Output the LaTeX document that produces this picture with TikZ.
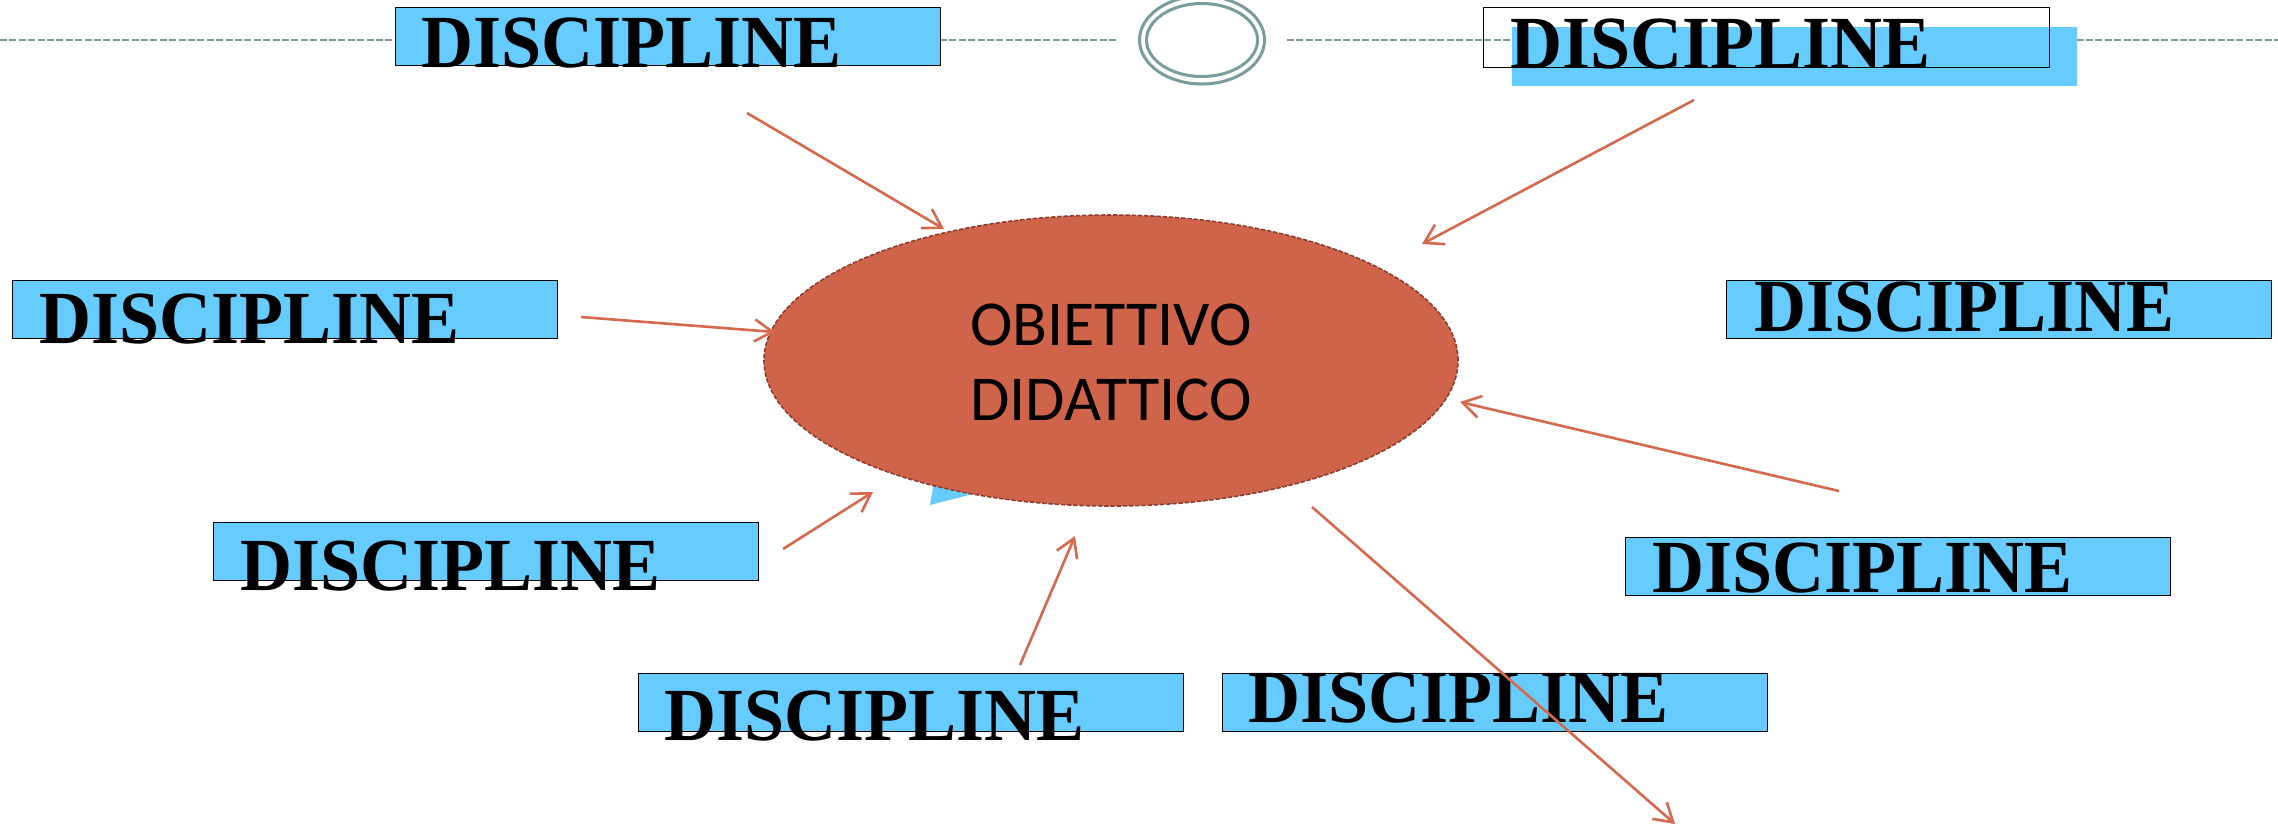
\documentclass[tikz,border=0pt]{standalone}
\usepackage{fontspec}
\usetikzlibrary{shapes.geometric,arrows.meta}
\newfontfamily\discfont[FakeStretch=0.96]{Liberation Serif}
\newfontfamily\carl{Carlito}
\definecolor{boxblue}{HTML}{66CCFF}
\definecolor{coralfill}{HTML}{D0644A}
\definecolor{arrowcol}{HTML}{D4694E}
\definecolor{edgecol}{HTML}{8E3E2E}
\definecolor{ringcol}{HTML}{7A9C9C}
\begin{document}
\begin{tikzpicture}[x=0.5pt,y=-0.5pt,
  discbox/.style={draw=black,line width=0.6pt,fill=boxblue,minimum width=272.5pt,minimum height=29pt,inner sep=0pt,anchor=north west},
  bluerect/.style={fill=boxblue,minimum width=282.5pt,minimum height=29.5pt,inner sep=0pt,anchor=north west},
  outlinebox/.style={draw=black,line width=0.6pt,minimum width=283pt,minimum height=30pt,inner sep=0pt,anchor=north west},
  disctext/.style={font=\discfont\bfseries\fontsize{37.5}{40}\selectfont,inner sep=0pt,anchor=base west},
  goaltext/.style={font=\carl\fontsize{32}{38}\selectfont,inner sep=0pt,anchor=base},
  link/.style={draw=arrowcol,line width=1.3pt,-{Straight Barb[length=9pt,width=11pt]}},
  ring/.style={draw=ringcol,line width=1.5pt},
  rulestyle/.style={draw=ringcol,line width=0.8pt,dash pattern=on 3.5pt off 1.2pt}]
\fill[white] (0,0) rectangle (2278,827);
\useasboundingbox (0,0) rectangle (2278,827);

% top rule and ring
\draw[rulestyle] (0,40) -- (1117,40);
\draw[rulestyle] (1287,40) -- (2278,40);
\draw[ring] (1202,40) ellipse [x radius=31.25pt, y radius=22pt];
\draw[ring] (1202,40) ellipse [x radius=27.75pt, y radius=18.25pt];

% boxes
\node[discbox] (b1) at (395,7) {};
\node[bluerect] (b2fill) at (1512,27) {};
\node[outlinebox] (b2) at (1483,7) {};
\node[discbox] (b3) at (12,280) {};
\node[discbox] (b4) at (1726,280) {};
\node[discbox] (b5) at (213,522) {};
\node[discbox] (b6) at (1625,537) {};
\node[discbox] (b7) at (638,673) {};
\node[discbox] (b8) at (1222,673) {};

% texts
\node[disctext] (t1) at (421,67) {DISCIPLINE};
\node[disctext] (t2) at (1510,68) {DISCIPLINE};
\node[disctext] (t3) at (39,343) {DISCIPLINE};
\node[disctext] (t4) at (1754,331) {DISCIPLINE};
\node[disctext] (t5) at (240,590) {DISCIPLINE};
\node[disctext] (t6) at (1652,592) {DISCIPLINE};
\node[disctext] (t7) at (664,740) {DISCIPLINE};
\node[disctext] (t8) at (1248,722) {DISCIPLINE};

% central ellipse
\fill[boxblue] (930,505) -- (936,470) -- (1000,487) -- cycle;
\node[ellipse,fill=coralfill,draw=edgecol,line width=0.8pt,dash pattern=on 2.2pt off 0.9pt,
      minimum width=347pt,minimum height=145.5pt,inner sep=0pt] (goal) at (1111,360.5) {};
\node[goaltext] (g1) at (1111,345) {OBIETTIVO};
\node[goaltext] (g2) at (1111,420) {DIDATTICO};

% arrows
\coordinate (a1s) at (747,113); \coordinate (a1e) at (944,229);
\coordinate (a2s) at (1694,100); \coordinate (a2e) at (1422,244);
\coordinate (a3s) at (581,317); \coordinate (a3e) at (775,332);
\coordinate (a4s) at (1839,491); \coordinate (a4e) at (1460,402);
\coordinate (a5s) at (783,549); \coordinate (a5e) at (873,492);
\coordinate (a6s) at (1020,665); \coordinate (a6e) at (1075,536);
\coordinate (a7s) at (1312,507); \coordinate (a7e) at (1675,824);
\draw[link] (a1s) -- (a1e);
\draw[link] (a2s) -- (a2e);
\draw[link] (a3s) -- (a3e);
\draw[link] (a4s) -- (a4e);
\draw[link] (a5s) -- (a5e);
\draw[link] (a6s) -- (a6e);
\draw[link] (a7s) -- (a7e);
\end{tikzpicture}
\end{document}
